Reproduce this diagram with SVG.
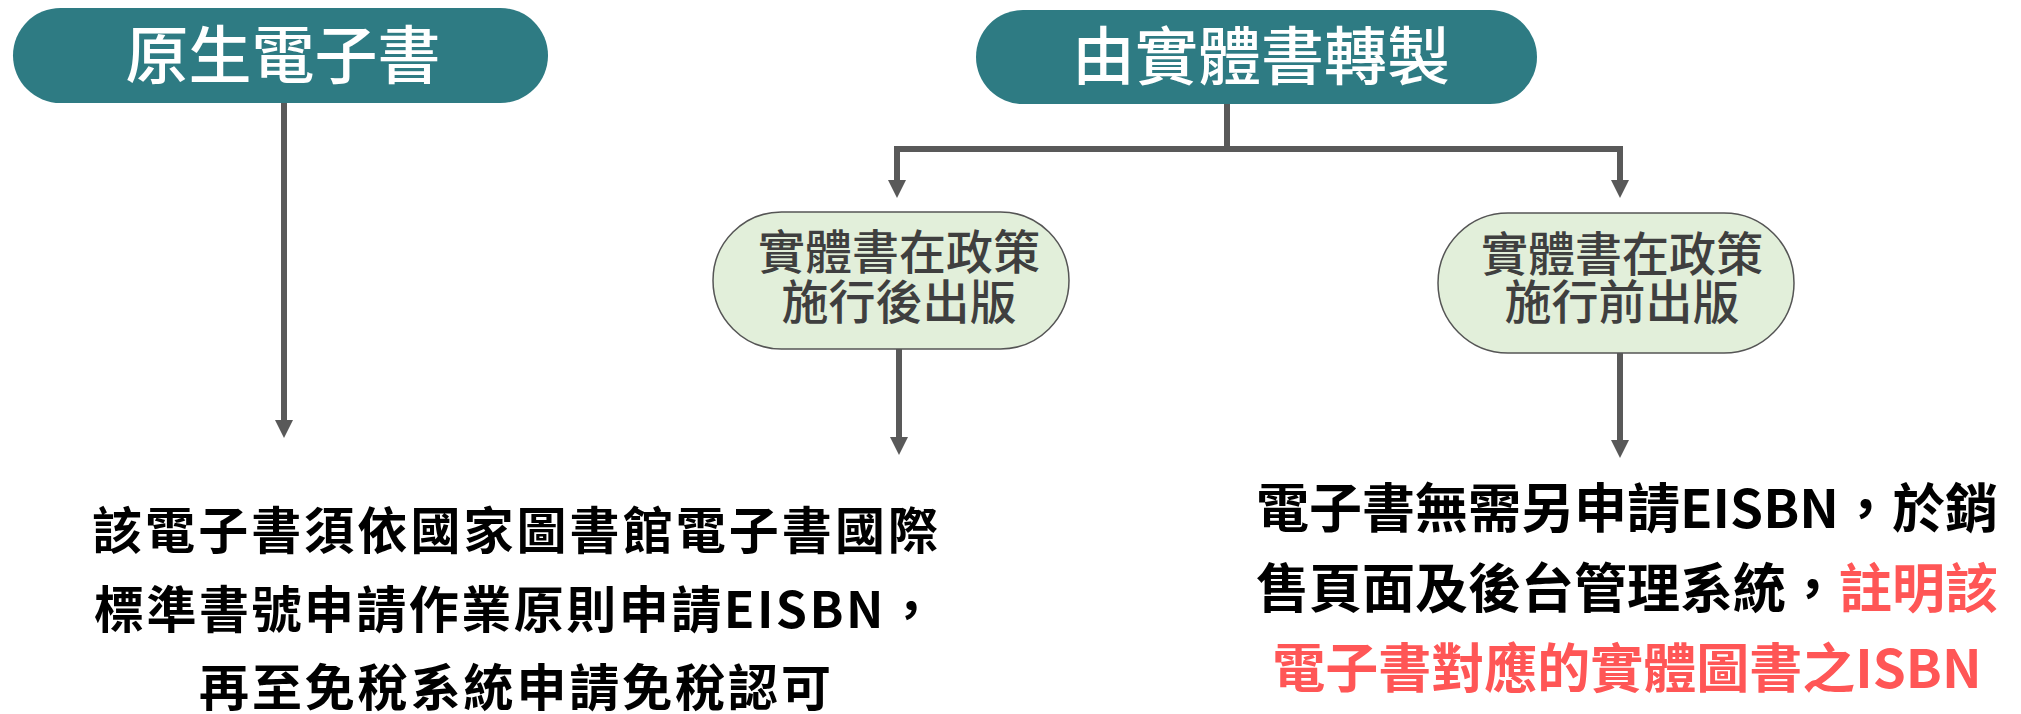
<svg xmlns="http://www.w3.org/2000/svg" width="2021" height="714" viewBox="0 0 2021 714">
<style>
.teal{fill:#2e7b83;}
.green{fill:#e2efda;stroke:#555555;stroke-width:1.5;}
.hdr{font-family:"Noto Sans CJK TC","Noto Sans CJK SC",sans-serif;font-size:63px;font-weight:500;fill:#ffffff;text-anchor:middle;}
.sub{font-family:"Noto Sans CJK TC","Noto Sans CJK SC",sans-serif;font-size:47px;font-weight:500;fill:#3f3f3f;text-anchor:middle;}
.body{font-family:"Noto Sans CJK TC","Noto Sans CJK SC",sans-serif;font-weight:700;fill:#000000;text-anchor:middle;}
.red{fill:#ff5656;}
.conn{fill:none;stroke:#595959;stroke-width:6;stroke-linejoin:miter;}
</style>
<defs>
<marker id="arr" markerUnits="userSpaceOnUse" markerWidth="18" markerHeight="18" refX="0" refY="9" orient="auto-start-reverse" viewBox="0 0 18 18">
<path d="M0,0 L18,9 L0,18 Z" fill="#595959"/>
</marker>
</defs>
<rect width="2021" height="714" fill="#ffffff"/>
<g id="connectors">
<path class="conn" d="M284,103 V420" marker-end="url(#arr)"/>
<path class="conn" d="M1227,104 V149"/>
<path class="conn" d="M897,180 V149 H1620 V180" marker-start="url(#arr)" marker-end="url(#arr)"/>
<path class="conn" d="M899,349 V437" marker-end="url(#arr)"/>
<path class="conn" d="M1620,353 V440" marker-end="url(#arr)"/>
</g>
<g id="node-native">
<rect class="teal" x="13" y="8" width="535" height="95" rx="47.5"/>
<text class="hdr" x="283" y="78">原生電子書</text>
</g>
<g id="node-converted">
<rect class="teal" x="976" y="10" width="561" height="94" rx="47"/>
<text class="hdr" x="1261" y="79">由實體書轉製</text>
</g>
<g id="node-after">
<rect class="green" x="713" y="212" width="356" height="137" rx="68.5"/>
<text class="sub" x="899" y="269">實體書在政策</text>
<text class="sub" x="899" y="319">施行後出版</text>
</g>
<g id="node-before">
<rect class="green" x="1438" y="213" width="356" height="140" rx="70"/>
<text class="sub" x="1622" y="271">實體書在政策</text>
<text class="sub" x="1622" y="319">施行前出版</text>
</g>
<g id="text-native">
<text class="body" font-size="50" x="515" y="549" textLength="846" lengthAdjust="spacing">該電子書須依國家圖書館電子書國際</text>
<text class="body" font-size="50" x="515" y="628" textLength="842" lengthAdjust="spacing">標準書號申請作業原則申請EISBN，</text>
<text class="body" font-size="50" x="515" y="706" textLength="632" lengthAdjust="spacing">再至免稅系統申請免稅認可</text>
</g>
<g id="text-before">
<text class="body" font-size="53" x="1627" y="528">電子書無需另申請EISBN，於銷</text>
<text class="body" font-size="53" x="1627" y="608">售頁面及後台管理系統，<tspan class="red">註明該</tspan></text>
<text class="body red" font-size="53" x="1627" y="688">電子書對應的實體圖書之ISBN</text>
</g>
</svg>
